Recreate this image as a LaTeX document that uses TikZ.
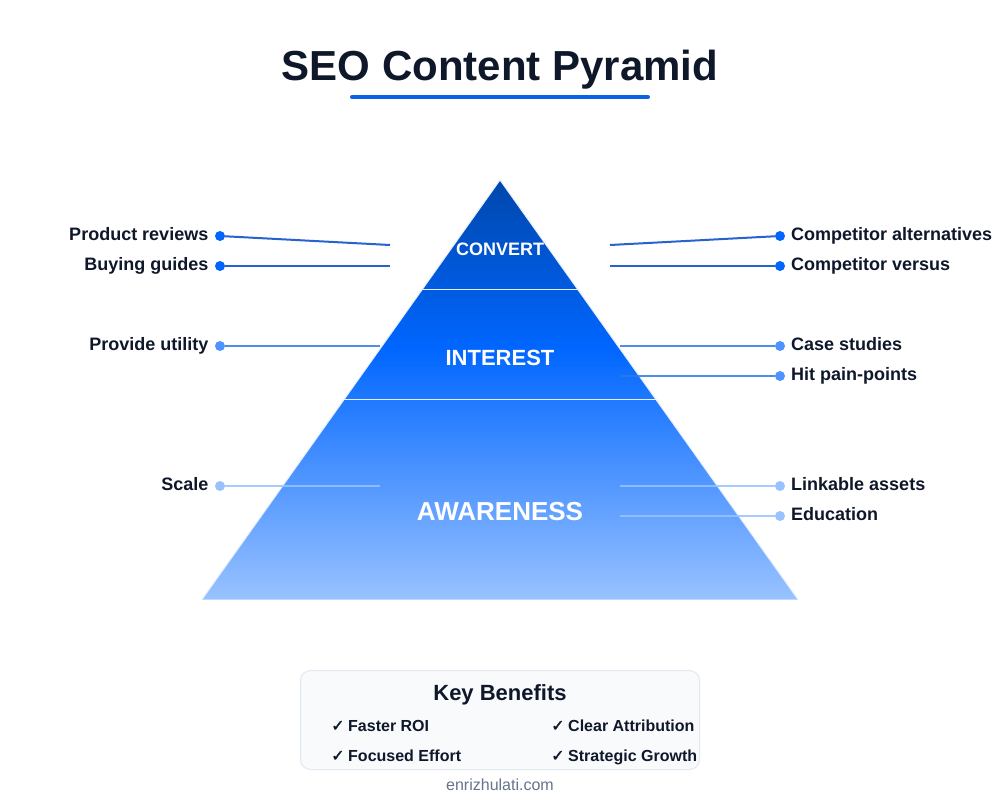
\documentclass[tikz,border=0pt]{standalone}
\usepackage{fontspec}
\setmainfont{Liberation Sans}
\newfontfamily\checkfont[FakeBold=1.6]{DejaVu Sans}
\definecolor{ink}{HTML}{0F172A}
\definecolor{deep}{HTML}{0047AB}
\definecolor{mid}{HTML}{0066FF}
\definecolor{pale}{HTML}{99C2FF}
\definecolor{soft}{HTML}{4D94FF}
\definecolor{linedeep}{HTML}{0048C8}
\definecolor{linesoft}{HTML}{2F7AE0}
\definecolor{rule}{HTML}{0A62E6}
\definecolor{boxfill}{HTML}{F8FAFC}
\definecolor{boxline}{HTML}{E2E8F0}
\definecolor{footc}{HTML}{64748B}
\definecolor{edge}{HTML}{E4EFFF}
\pgfdeclareverticalshading{pyr}{100bp}{color(0bp)=(pale); color(25bp)=(pale); color(55bp)=(mid); color(75bp)=(deep); color(100bp)=(deep)}
\tikzset{
  x=1pt,y=-1pt,
  lab/.style={font=\fontsize{18}{20}\selectfont\bfseries,text=ink,inner sep=0pt},
  labl/.style={lab,anchor=base east},
  labr/.style={lab,anchor=base west},
  dotnode/.style={circle,inner sep=0pt,minimum size=10pt,fill=#1},
  conn/.style={line width=2pt,draw=#1,opacity=.85},
  tier/.style={font=\bfseries,text=white,inner sep=0pt,anchor=base},
  ben/.style={font=\fontsize{16}{18}\selectfont\bfseries,text=ink,inner sep=0pt,anchor=base west},
}
\newcommand{\tick}{{\checkfont ✓}\hspace{3.6pt}}
\begin{document}
\begin{tikzpicture}
\useasboundingbox (0,0) rectangle (1000,800);
% title
\node[font=\fontsize{42}{46}\selectfont\bfseries,text=ink,inner sep=0pt,anchor=base] (title) at (500,81) {SEO Content Pyramid};
\draw[line width=4pt,line cap=round,draw=rule] (352,97) -- (648,97);
% pyramid
\shade[shading=pyr] (500,180) -- (798,599.5) -- (202,599.5) -- cycle;
\draw[edge,line width=1pt,line join=round] (202,599.5) -- (500,180) -- (798,599.5);
\draw[edge,line width=1pt] (422,289.5) -- (578,289.5);
\draw[edge,line width=1.2pt] (344,399.5) -- (656,399.5);
\node[tier,font=\fontsize{18}{20}\selectfont\bfseries] (convert) at (500,255) {CONVERT};
\node[tier,font=\fontsize{22}{24}\selectfont\bfseries] (interest) at (500,365) {INTEREST};
\node[tier,font=\fontsize{26}{28}\selectfont\bfseries] (awareness) at (500,520) {AWARENESS};
% dots
\node[dotnode=mid] (d1) at (220,236) {};
\node[dotnode=mid] (d2) at (220,266) {};
\node[dotnode=soft] (d3) at (220,346) {};
\node[dotnode=pale] (d4) at (220,486) {};
\node[dotnode=mid] (d5) at (780,236) {};
\node[dotnode=mid] (d6) at (780,266) {};
\node[dotnode=soft] (d7) at (780,346) {};
\node[dotnode=soft] (d8) at (780,376) {};
\node[dotnode=pale] (d9) at (780,486) {};
\node[dotnode=pale] (d10) at (780,516) {};
% free ends
\coordinate (e1) at (390,245);
\coordinate (e2) at (390,266);
\coordinate (e3) at (380,346);
\coordinate (e4) at (380,486);
\coordinate (e5) at (610,245);
\coordinate (e6) at (610,266);
\coordinate (e7) at (620,346);
\coordinate (e8) at (620,376);
\coordinate (e9) at (620,486);
\coordinate (e10) at (620,516);
% connectors
\draw[conn=linedeep] (d1) -- (e1);
\draw[conn=linedeep] (d2) -- (e2);
\draw[conn=linesoft] (d3) -- (e3);
\draw[conn=pale] (d4) -- (e4);
\draw[conn=linedeep] (d5) -- (e5);
\draw[conn=linedeep] (d6) -- (e6);
\draw[conn=linesoft] (d7) -- (e7);
\draw[conn=linesoft] (d8) -- (e8);
\draw[conn=pale] (d9) -- (e9);
\draw[conn=pale] (d10) -- (e10);
% labels
\node[labl] (l1) at (208.5,240) {Product reviews};
\node[labl] (l2) at (208.5,270) {Buying guides};
\node[labl] (l3) at (208.5,350) {Provide utility};
\node[labl] (l4) at (208.5,490) {Scale};
\node[labr] (l5) at (791,240) {Competitor alternatives};
\node[labr] (l6) at (791,270) {Competitor versus};
\node[labr] (l7) at (791,350) {Case studies};
\node[labr] (l8) at (791,380) {Hit pain-points};
\node[labr] (l9) at (791,490) {Linkable assets};
\node[labr] (l10) at (791,520) {Education};
% benefits
\draw[fill=boxfill,draw=boxline,line width=1pt,rounded corners=10pt] (300.5,670.5) rectangle (699.5,769.5);
\node[font=\fontsize{22}{24}\selectfont\bfseries,text=ink,inner sep=0pt,anchor=base] (kb) at (500,700) {Key Benefits};
\node[ben] (b1) at (331,731) {\tick Faster ROI};
\node[ben] (b2) at (551,731) {\tick Clear Attribution};
\node[ben] (b3) at (331,761) {\tick Focused Effort};
\node[ben] (b4) at (551,761) {\tick Strategic Growth};
\node[font=\fontsize{16}{18}\selectfont,text=footc,inner sep=0pt,anchor=base] (foot) at (500,790) {enrizhulati.com};
\end{tikzpicture}
\end{document}
